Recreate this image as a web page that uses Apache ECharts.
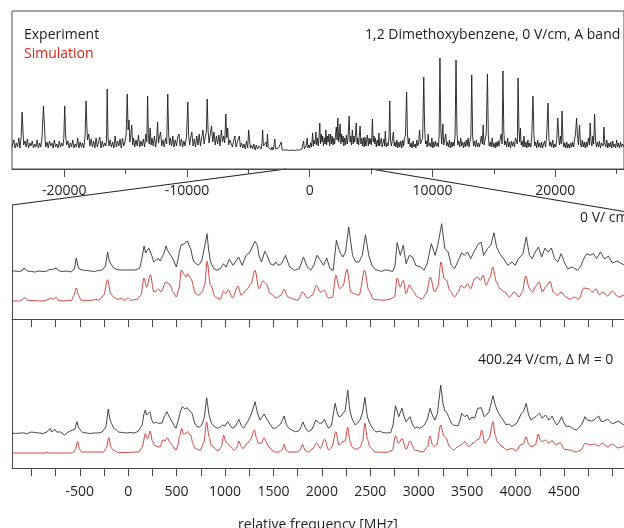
<!DOCTYPE html>
<html>
<head>
<meta charset="utf-8">
<script src="https://cdn.jsdelivr.net/npm/echarts@6/dist/echarts.min.js"></script>
<style>
  html, body { margin: 0; padding: 0; background: #fff; }
  #chart { width: 624px; height: 528px; }
</style>
</head>
<body>
<div id="chart"></div>
<script>
// full A band, experiment: [frequency MHz, intensity above baseline]
const topExp = [
  [-24250,3],[-24200,3],[-24100,10],[-24000,2],[-23900,7],[-23800,3],[-23700,12],[-23600,2],[-23500,14],[-23425,38],[-23350,18],[-23300,5],
  [-23200,9],[-23100,3],[-23000,11],[-22900,2],[-22800,7],[-22700,4],[-22600,9],[-22500,2],[-22400,6],[-22300,3],[-22200,10],[-22100,2],
  [-22000,7],[-21900,3],[-21800,14],[-21690,44],[-21620,28],[-21550,10],[-21500,3],[-21400,8],[-21300,2],[-21200,9],[-21100,4],[-21000,7],
  [-20900,2],[-20800,10],[-20700,3],[-20600,6],[-20500,2],[-20400,9],[-20300,3],[-20200,7],[-20100,4],[-20030,12],[-19954,44],[-19890,16],
  [-19800,5],[-19700,9],[-19600,2],[-19500,7],[-19400,3],[-19300,10],[-19200,2],[-19100,6],[-19000,3],[-18900,12],[-18800,2],[-18700,8],
  [-18600,3],[-18500,7],[-18400,2],[-18300,14],[-18217,49],[-18150,24],[-18100,10],[-18000,16],[-17900,4],[-17800,11],[-17700,3],[-17600,9],
  [-17500,2],[-17400,12],[-17300,3],[-17200,8],[-17100,13],[-17000,2],[-16900,9],[-16800,3],[-16700,7],[-16600,4],[-16550,12],[-16496,61],
  [-16430,12],[-16350,4],[-16250,10],[-16150,3],[-16050,8],[-15950,2],[-15850,14],[-15750,3],[-15650,9],[-15550,4],[-15450,11],[-15350,2],
  [-15250,12],[-15150,4],[-15050,8],[-14950,16],[-14863,56],[-14790,20],[-14720,30],[-14650,8],[-14580,14],[-14500,25],[-14420,5],[-14350,12],
  [-14250,3],[-14150,10],[-14050,4],[-13950,15],[-13850,3],[-13750,9],[-13650,4],[-13550,11],[-13450,3],[-13350,16],[-13270,8],[-13205,54],
  [-13140,14],[-13070,6],[-13000,22],[-12920,5],[-12850,12],[-12750,4],[-12650,14],[-12550,3],[-12470,10],[-12392,28],[-12320,7],[-12250,12],
  [-12150,18],[-12050,4],[-11950,10],[-11850,3],[-11750,12],[-11650,6],[-11563,56],[-11490,16],[-11420,5],[-11350,12],[-11250,4],[-11150,14],
  [-11050,3],[-10950,10],[-10850,4],[-10750,13],[-10650,16],[-10550,4],[-10450,11],[-10350,3],[-10250,9],[-10150,4],[-10030,14],[-9929,48],
  [-9860,14],[-9780,5],[-9700,12],[-9600,18],[-9500,4],[-9400,11],[-9300,3],[-9200,14],[-9100,5],[-9000,16],[-8900,4],[-8800,12],
  [-8700,20],[-8600,6],[-8500,14],[-8420,18],[-8351,51],[-8280,20],[-8200,7],[-8100,16],[-8000,24],[-7900,8],[-7800,18],[-7700,5],
  [-7600,14],[-7500,6],[-7400,15],[-7300,4],[-7200,20],[-7100,8],[-7000,14],[-6920,7],[-6835,36],[-6760,12],[-6680,22],[-6600,5],
  [-6500,10],[-6400,12],[-6300,3],[-6200,9],[-6100,14],[-6000,3],[-5900,8],[-5800,10],[-5730,14],[-5650,3],[-5550,7],[-5450,2],
  [-5350,6],[-5250,1],[-5150,9],[-5050,2],[-4973,20],[-4900,10],[-4820,2],[-4750,5],[-4650,1],[-4550,6],[-4450,0],[-4350,5],
  [-4250,1],[-4150,4],[-4050,6],[-3950,1],[-3880,8],[-3836,20],[-3770,4],[-3700,2],[-3620,6],[-3550,8],[-3500,3],[-3441,16],
  [-3380,3],[-3300,1],[-3220,4],[-3150,0],[-3080,3],[-3000,0],[-2930,3],[-2841,11],[-2780,1],[-2700,2],[-2620,0],[-2550,2],
  [-2480,0],[-2400,1],[-2313,8],[-2250,0],[-2150,-1],[-2050,0],[-1950,-1.5],[-1850,0],[-1750,-1],[-1650,-0.5],[-1550,-1.5],[-1450,0],
  [-1350,-1],[-1250,-0.5],[-1150,-1.5],[-1050,0],[-950,-1],[-850,0],[-750,-1],[-650,1],[-550,0],[-497,9],[-440,1],[-380,2],
  [-300,4],[-250,2],[-205,12],[-150,2],[-80,5],[0,2],[60,7],[130,3],[180,8],[237,17],[290,4],[350,10],
  [420,6],[505,18],[560,5],[630,12],[700,4],[760,14],[821,27],[880,6],[940,16],[1000,8],[1060,14],[1120,4],
  [1200,12],[1260,6],[1318,20],[1380,5],[1440,14],[1500,8],[1560,16],[1620,4],[1700,16],[1760,6],[1830,14],[1900,5],
  [1960,12],[2030,6],[2100,14],[2163,23],[2230,10],[2289,32],[2360,8],[2420,14],[2478,26],[2540,6],[2600,16],[2660,8],
  [2720,14],[2780,4],[2850,12],[2920,5],[2990,15],[3060,6],[3130,14],[3212,34],[3280,8],[3340,14],[3400,5],[3473,20],
  [3540,6],[3600,14],[3670,8],[3730,16],[3789,27],[3860,6],[3920,12],[3990,5],[4040,14],[4104,24],[4170,6],[4230,12],
  [4300,4],[4370,12],[4440,3],[4500,13],[4570,4],[4640,10],[4700,15],[4770,4],[4840,12],[4900,6],[4960,11],[5030,5],
  [5107,31],[5170,8],[5240,14],[5300,6],[5360,12],[5420,3],[5500,10],[5580,4],[5636,17],[5700,4],[5770,9],[5840,12],
  [5900,3],[5980,8],[6050,11],[6100,4],[6156,19],[6230,3],[6300,7],[6380,4],[6460,12],[6520,49],[6580,10],[6650,4],
  [6720,9],[6819,18],[6880,4],[6950,8],[7020,3],[7100,10],[7180,2],[7260,8],[7340,3],[7420,9],[7500,2],[7580,10],
  [7650,4],[7720,11],[7800,15],[7893,58],[7960,16],[8030,6],[8100,12],[8180,3],[8260,7],[8340,2],[8420,9],[8500,3],
  [8580,6],[8650,2],[8720,10],[8800,4],[8880,8],[8950,20],[9020,6],[9100,4],[9200,12],[9290,73],[9360,24],[9430,6],
  [9500,9],[9570,3],[9650,16],[9720,4],[9800,7],[9880,3],[9950,12],[10030,2],[10100,8],[10180,3],[10250,9],[10330,4],
  [10400,7],[10480,3],[10540,14],[10608,92],[10680,20],[10750,6],[10845,26],[10920,5],[11000,10],[11080,16],[11150,4],[11230,8],
  [11300,3],[11380,10],[11450,2],[11530,8],[11600,3],[11680,8],[11760,4],[11840,14],[11918,90],[11990,20],[12060,5],[12140,9],
  [12220,3],[12300,12],[12380,4],[12450,8],[12530,2],[12600,8],[12680,3],[12750,10],[12830,4],[12900,12],[12980,3],[13050,8],
  [13130,14],[13197,75],[13270,15],[13340,4],[13420,9],[13500,3],[13580,10],[13660,3],[13740,7],[13820,3],[13900,8],[13980,14],
  [14060,6],[14128,25],[14200,5],[14280,10],[14380,16],[14476,76],[14550,14],[14620,4],[14700,8],[14780,3],[14860,12],[14940,3],
  [15020,7],[15100,2],[15180,8],[15260,3],[15340,9],[15420,4],[15500,10],[15600,16],[15670,6],[15739,79],[15810,18],[15880,5],
  [15960,9],[16040,3],[16120,12],[16200,3],[16280,8],[16360,2],[16440,9],[16520,4],[16600,8],[16680,3],[16760,12],[16850,14],
  [16910,6],[16970,72],[17040,22],[17100,8],[17160,22],[17230,5],[17300,9],[17380,3],[17450,14],[17530,3],[17610,8],[17690,2],
  [17770,10],[17850,3],[17930,7],[18010,3],[18080,12],[18186,54],[18260,16],[18330,4],[18410,8],[18490,2],[18570,10],[18650,3],
  [18730,7],[18810,2],[18890,8],[18970,2],[19050,6],[19130,9],[19210,3],[19300,14],[19410,47],[19480,12],[19550,4],[19630,8],
  [19710,3],[19800,10],[19880,2],[19960,6],[20040,3],[20120,10],[20206,32],[20290,12],[20350,5],[20420,14],[20490,6],[20553,39],
  [20630,10],[20700,3],[20780,7],[20860,2],[20940,8],[21020,2],[21100,6],[21180,2],[21260,7],[21340,3],[21420,8],[21500,3],
  [21570,10],[21650,16],[21738,32],[21810,14],[21890,5],[21975,25],[22050,6],[22130,3],[22200,10],[22280,3],[22360,8],[22440,2],
  [22520,8],[22600,3],[22700,12],[22780,5],[22843,27],[22920,8],[22990,4],[23060,14],[23130,6],[23206,36],[23280,10],[23360,3],
  [23440,8],[23520,3],[23600,9],[23680,2],[23760,7],[23850,8],[23900,4],[23964,23],[24040,6],[24120,3],[24200,10],[24280,2],
  [24360,7],[24440,3],[24520,8],[24600,2],[24680,9],[24760,3],[24840,6],[24920,2],[25000,10],[25080,3],[25160,7],[25240,2],
  [25320,8],[25400,3],[25480,6],[25600,3]
];

// zoomed window, 0 V/cm
const midExp = [
  [-1200,0],[-1185,1.5],[-1170,0],[-1150,1],[-1130,-0.5],[-1110,1],[-1090,0.5],[-1076,3],[-1060,1],[-1040,0],[-1020,1],[-1000,-0.5],
  [-980,0.5],[-960,-1],[-940,0.5],[-920,0],[-900,1],[-880,-0.5],[-860,0.5],[-836,0],[-815,1.5],[-796,3.5],[-780,1.5],[-760,2],
  [-746,3],[-730,1],[-710,0],[-690,1],[-670,-0.5],[-650,0.5],[-630,0],[-610,1],[-590,-1],[-570,0.5],[-555,2],[-536,13],
  [-520,5],[-505,2],[-486,0],[-470,1],[-450,-1],[-430,0.5],[-410,1.5],[-390,0],[-370,1],[-350,-0.5],[-330,1],[-310,0.5],
  [-290,2],[-270,1],[-250,2.5],[-235,5],[-213,19],[-195,10],[-170,5.7],[-150,3],[-136,2.3],[-115,1.5],[-100,1.3],[-80,1],
  [-60,1.5],[-40,1],[-20,1.5],[0,1],[20,1.5],[40,1],[60,1.3],[80,1],[100,1.5],[120,3],[140,12],[164,25],
  [180,18],[197,17],[212,23],[230,25],[245,15],[264,9],[285,11],[314,12.3],[330,10],[347,9],[370,18],[390,25],
  [405,21],[414,20],[430,17],[447,15],[464,12],[480,8],[497,4],[515,12],[530,20],[547,26],[565,27],[580,27.3],
  [600,27],[614,30],[630,25],[647,22],[665,13],[680,9],[700,7],[724,5.7],[745,8],[764,12],[780,20],[800,30],
  [814,37.3],[832,20],[850,9],[884,2.3],[917,0.7],[950,2.3],[984,7.3],[1010,4],[1044,11.7],[1084,5.7],[1140,14],[1177,5.7],
  [1217,15.7],[1257,19],[1310,29.7],[1334,25.7],[1350,15.7],[1377,9],[1410,19.7],[1434,15.7],[1467,7.3],[1500,5.7],[1524,9],[1550,5.7],
  [1584,7.3],[1624,15.7],[1667,4],[1717,0.7],[1767,2.3],[1810,14],[1850,4],[1884,0.7],[1917,5.7],[1950,15.7],[1984,10.7],[2017,5.7],
  [2050,13],[2084,2.3],[2117,0.7],[2150,30.7],[2184,19],[2217,14],[2244,19],[2277,44],[2317,15.7],[2350,9],[2384,9],[2417,15.7],
  [2450,36.3],[2484,15.7],[2517,5.7],[2550,1.7],[2580,0.5],[2617,-0.3],[2650,1],[2684,0.7],[2710,0],[2734,-0.3],[2755,5],[2777,28.3],
  [2810,15.7],[2840,25.7],[2870,7.3],[2904,15.7],[2937,14],[2970,5.7],[3020,4],[3054,0.7],[3087,7.3],[3130,27.3],[3170,15.7],[3197,25.7],
  [3237,47.3],[3270,22.3],[3304,19],[3337,5.7],[3370,2.3],[3410,10.7],[3444,18.3],[3470,15.7],[3504,19],[3537,12.3],[3570,19],[3610,26.3],
  [3644,29],[3670,15.7],[3710,22.3],[3744,25.7],[3777,38.3],[3804,24],[3837,17.3],[3877,12.3],[3920,5.7],[3964,9],[3997,5.7],[4030,12.3],
  [4077,17.3],[4110,34],[4144,15.7],[4170,12.3],[4204,19],[4237,24],[4270,14],[4304,23],[4337,19],[4370,23],[4404,12.3],[4437,9],
  [4470,17.3],[4504,9],[4537,2.3],[4587,4],[4637,0.7],[4670,4],[4704,12.3],[4737,17.3],[4770,15.7],[4804,17.3],[4837,12.3],[4877,19],
  [4920,12],[4960,15],[5000,8],[5050,10],[5120,6]
];
const midSim = [
  [-1200,0],[-1120,0],[-1103,1],[-1070,3],[-1036,0.7],[-900,0],[-870,0.3],[-820,1.7],[-796,3],[-770,1.7],[-746,4],[-720,0.7],
  [-670,0],[-586,0.7],[-560,5.7],[-536,13],[-513,5.7],[-486,0.7],[-370,0.7],[-336,1.7],[-303,0.7],[-253,5.7],[-213,21.3],[-180,7.3],
  [-153,4],[-110,1.7],[-70,2.5],[-36,0.7],[-3,3],[30,0.7],[97,2],[130,5.7],[164,23],[190,13.7],[230,26.3],[264,9],
  [314,11.7],[337,9],[390,19],[430,16.3],[464,9],[497,4],[524,12.3],[547,30.7],[580,26.3],[597,24],[614,27.3],[647,22.3],
  [697,7.3],[730,5.7],[764,9.3],[790,16],[814,39.7],[850,15.7],[900,4],[950,1.7],[984,9.7],[1010,7.3],[1034,11.3],[1077,3],
  [1134,15],[1167,5.7],[1200,9],[1234,12.3],[1267,17.3],[1310,30.7],[1350,12.3],[1394,20],[1424,17.3],[1467,7.3],[1534,3],[1577,5.7],
  [1610,11.7],[1650,4],[1717,1.7],[1750,0.7],[1800,9],[1850,3],[1900,5.7],[1944,15.7],[1984,9],[2027,10.7],[2067,3],[2110,4],
  [2144,25.7],[2184,12.3],[2217,15],[2260,31.7],[2300,9],[2334,7.3],[2384,5.7],[2440,30.7],[2484,10.7],[2534,1.7],[2634,0.7],[2700,1.7],
  [2750,4],[2777,23],[2810,14],[2840,20.7],[2870,7.3],[2904,16.3],[2937,10.7],[2987,4],[3037,1.7],[3077,7.3],[3120,24],[3164,9],
  [3197,14],[3230,39],[3264,22.3],[3287,20.7],[3320,10.7],[3370,4],[3410,9],[3437,15.7],[3470,13],[3504,17.3],[3537,12.3],[3577,22.3],
  [3610,24],[3637,20.7],[3664,25.7],[3697,15.7],[3737,24],[3764,34],[3804,19],[3837,12.3],[3887,9],[3937,4],[3987,9],[4037,4],
  [4070,9],[4104,25],[4144,12.3],[4177,9],[4210,15],[4244,19],[4277,9],[4310,14],[4357,19.7],[4390,9],[4430,5.7],[4470,9],
  [4520,4],[4564,1.7],[4604,4],[4654,1.7],[4704,13],[4754,12.3],[4797,9],[4830,12.3],[4864,6.3],[4904,9],[4950,5],[5000,10],
  [5060,4],[5120,6]
];

// zoomed window, 400.24 V/cm, delta M = 0
const lowExp = [
  [-1200,0],[-1180,1],[-1160,-0.5],[-1140,1],[-1120,0],[-1100,1.5],[-1080,0],[-1060,1],[-1040,-0.5],[-1020,0.5],[-1000,1],[-980,-0.5],
  [-960,0.5],[-940,1],[-920,0],[-900,1],[-880,-0.5],[-860,0.5],[-840,1],[-820,2],[-806,4.7],[-790,1],[-770,2],[-756,3.7],
  [-740,1],[-720,0],[-700,1],[-680,-1],[-656,-2],[-640,0],[-620,1],[-600,0.5],[-573,3],[-550,4],[-530,11.3],[-510,5],
  [-490,3],[-470,0.5],[-450,1],[-430,0],[-410,1],[-390,-0.5],[-370,1],[-350,0],[-330,1],[-310,0],[-290,1.5],[-270,1],
  [-250,2],[-230,6],[-206,24],[-190,14],[-173,9.7],[-150,5],[-123,3],[-100,1],[-80,1.5],[-60,0.5],[-40,1],[-20,0],
  [0,1],[20,0.5],[40,1],[60,0],[80,1],[100,1.5],[120,2],[145,8],[160,18],[177,23],[190,18],[204,16.3],
  [224,21.3],[240,14],[260,9.7],[285,11],[310,9.7],[330,11],[350,10],[370,16],[400,21.3],[420,17],[444,13],[470,8],
  [494,4.7],[520,14],[540,22],[560,26.3],[585,24],[610,25.3],[635,22],[660,19.7],[685,10],[710,6.3],[735,6],[760,8],
  [785,15],[810,35.3],[835,18],[860,9.7],[895,6],[927,4.7],[950,6],[977,8],[1000,7],[1027,11.3],[1050,8],[1077,4.7],
  [1110,7],[1143,13.7],[1170,7],[1193,4.7],[1220,9],[1243,13],[1275,20],[1310,31.3],[1335,20],[1360,13],[1380,15],[1403,19],
  [1425,15],[1443,13],[1470,8],[1493,4.7],[1520,5],[1543,6.3],[1575,9],[1610,17],[1635,8],[1660,4.7],[1690,3],[1727,1.3],
  [1760,2],[1780,5],[1805,11],[1830,5],[1860,1.3],[1900,4],[1937,13],[1957,11],[1977,9.7],[2000,10],[2027,13.7],[2050,8],
  [2070,4.7],[2100,8],[2137,29.7],[2160,20],[2177,16.3],[2200,17],[2217,19.7],[2240,22],[2267,43],[2290,22],[2310,14.7],[2344,8],
  [2370,10],[2394,13],[2420,20],[2444,35.7],[2470,16],[2494,9.7],[2520,5],[2544,2.3],[2570,1],[2600,2],[2625,0.5],[2644,1.3],
  [2670,0],[2690,1],[2710,0.3],[2735,8],[2760,27.3],[2794,16.3],[2827,24.7],[2850,16],[2870,11.3],[2910,16.3],[2935,9],[2960,4.7],
  [2985,6],[3010,4.7],[3035,6],[3060,8],[3090,14],[3117,24.7],[3140,18],[3167,13],[3194,19.7],[3227,48],[3250,30],[3267,23],
  [3290,20],[3310,16.3],[3335,10],[3360,8],[3380,9],[3404,7],[3425,12],[3444,19.7],[3477,16.3],[3500,18],[3527,13],[3550,16],
  [3577,14.7],[3610,24.7],[3644,25.3],[3677,16.3],[3700,18],[3727,21.3],[3767,37.3],[3790,28],[3810,23],[3835,18],[3860,14.7],[3904,8],
  [3930,9],[3960,6.3],[3985,8],[4010,9.7],[4035,14],[4060,19.7],[4085,22],[4110,29.7],[4135,18],[4160,13],[4185,15],[4210,16.3],
  [4244,19.7],[4277,14.7],[4310,18],[4344,13],[4377,17],[4400,12],[4427,8],[4450,11],[4477,16.3],[4500,10],[4527,6.3],[4550,7],
  [4577,5.7],[4600,4],[4627,3],[4650,5],[4677,8],[4700,12],[4717,16.3],[4740,13],[4760,14.7],[4785,12],[4810,13],[4835,15],
  [4860,17],[4880,12],[4904,11.3],[4950,14],[5000,9],[5060,12],[5120,8]
];
const lowSim = [
  [-1200,0],[-860,0],[-840,0.7],[-820,0],[-580,0],[-563,1],[-543,4],[-523,11.7],[-503,4],[-483,1],[-256,1],[-225,5],
  [-200,15.3],[-178,6],[-156,2.7],[-90,0.3],[110,1],[145,6],[177,19.3],[192,15],[204,14.3],[227,22],[250,12],[270,7.7],
  [300,6.5],[327,6],[360,13.3],[380,12],[404,15.3],[430,11],[450,8],[494,3],[515,8],[527,16],[553,24.7],[570,19],
  [584,19],[610,21.3],[644,18],[670,9],[694,4.3],[744,2.7],[780,10],[810,31],[835,16],[860,7.7],[927,2],[960,6],
  [987,17.7],[1005,12],[1027,9.3],[1060,6],[1093,2.7],[1120,5],[1143,12],[1165,7],[1183,4.3],[1227,9.3],[1260,13],[1303,23],
  [1325,15],[1343,9.7],[1375,10],[1403,15.3],[1430,10],[1450,6],[1510,1],[1560,1],[1590,3],[1610,8.7],[1630,3],[1660,1],
  [1743,1],[1775,3],[1800,8.7],[1825,3],[1860,1],[1910,4.7],[1944,10.3],[1984,4.7],[2027,13.7],[2070,3],[2104,6.3],[2144,21.3],
  [2177,8],[2217,11.3],[2240,12],[2267,25.7],[2290,12],[2310,6.3],[2344,3.7],[2394,5.3],[2420,12],[2444,29.7],[2470,14],[2494,6.3],
  [2550,1],[2677,0.7],[2727,2.7],[2760,17],[2794,9.7],[2827,14.7],[2870,3.7],[2910,12],[2960,3],[3044,1],[3090,6],[3117,17],
  [3140,9],[3160,6.3],[3184,8],[3227,28],[3260,17],[3284,14.7],[3317,6.3],[3360,3],[3404,6.3],[3437,8],[3477,11.3],[3517,6.3],
  [3560,9.7],[3600,13],[3625,14],[3650,23],[3684,9.7],[3727,14.7],[3767,31.3],[3790,18],[3810,11.3],[3860,6.3],[3910,3],[3960,4.7],
  [4010,2],[4050,8],[4080,9],[4110,16.3],[4135,9],[4160,6.3],[4204,8],[4234,19],[4255,13],[4270,11.3],[4310,13],[4344,9.7],
  [4377,12.3],[4417,8],[4460,10.3],[4504,3.7],[4560,3],[4627,1],[4677,3],[4717,9.7],[4770,8],[4817,9],[4860,7],[4894,9.7],
  [4950,6],[5000,9],[5060,5],[5120,7]
];

const topMajor = [-20000, -10000, 0, 10000, 20000];
const topMinor = [-15000, -5000, 5000, 15000, 25000];
const zoomTicks = [-1000, -750, -500, -250, 0, 250, 500, 750, 1000, 1250, 1500, 1750, 2000, 2250, 2500,
  2750, 3000, 3250, 3500, 3750, 4000, 4250, 4500, 4750, 5000];
const zoomLabels = [-500, 0, 500, 1000, 1500, 2000, 2500, 3000, 3500, 4000, 4500];
// part of the full band that is blown up below
const zoomFrom = -1920, zoomTo = 5000;

const FONT = "'Open Sans', sans-serif";
const INK = '#1e1e1e';
const RED = '#c8302c';
const AXIS = '#4a4a4a';

// traces are stacked inside a panel by shifting the baseline
const shift = (arr, off) => arr.map(p => [p[0], p[1] + off]);
const plain = v => String(v);

const chart = echarts.init(document.getElementById('chart'));

function trace(data, xi, yi, color, smooth) {
  return {
    type: 'line',
    xAxisIndex: xi,
    yAxisIndex: yi,
    data: data,
    showSymbol: false,
    smooth: smooth ? 0.3 : false,
    smoothMonotone: 'x',
    lineStyle: { color: color, width: 0.9 },
    silent: true,
    animation: false
  };
}

function text(str, x, y, color, align) {
  return {
    type: 'text',
    x: x,
    y: y,
    silent: true,
    style: {
      text: str,
      fill: color || INK,
      font: "14px 'Open Sans', sans-serif",
      textAlign: align || 'left',
      textVerticalAlign: 'middle'
    }
  };
}

const frameLine = { show: true, onZero: false, lineStyle: { color: AXIS, width: 1 } };

const option = {
  animation: false,
  backgroundColor: '#fff',
  grid: [
    { left: 12, right: -20, top: 11, bottom: 359, show: true, borderColor: AXIS, borderWidth: 1 },
    { left: 12, right: -20, top: 205, bottom: 209 },
    { left: 12, right: -20, top: 319, bottom: 60 }
  ],
  xAxis: [
    {
      gridIndex: 0, type: 'value', min: -24250, max: 25600, position: 'bottom',
      splitLine: { show: false },
      axisLine: frameLine,
      axisTick: { show: true, customValues: topMajor, length: 8, lineStyle: { color: AXIS } },
      axisLabel: { customValues: topMajor, formatter: plain, margin: 15, color: INK, fontSize: 14, fontFamily: FONT }
    },
    {
      gridIndex: 0, type: 'value', min: -24250, max: 25600, position: 'bottom',
      splitLine: { show: false },
      axisLine: { show: false, onZero: false },
      axisTick: { show: true, customValues: topMinor, length: 5, lineStyle: { color: AXIS } },
      axisLabel: { show: false }
    },
    {
      gridIndex: 1, type: 'value', min: -1200, max: 5120,
      show: false
    },
    {
      gridIndex: 2, type: 'value', min: -1200, max: 5120, position: 'bottom',
      splitLine: { show: false },
      axisLine: frameLine,
      axisTick: { show: true, customValues: zoomTicks, length: 8, lineStyle: { color: AXIS } },
      axisLabel: { customValues: zoomLabels, formatter: plain, margin: 17, color: INK, fontSize: 14, fontFamily: FONT }
    },
    {
      gridIndex: 2, type: 'value', min: -1200, max: 5120, position: 'top',
      splitLine: { show: false },
      axisLine: frameLine,
      axisTick: { show: true, inside: true, customValues: zoomTicks, length: 8, lineStyle: { color: AXIS } },
      axisLabel: { show: false }
    }
  ],
  yAxis: [
    { gridIndex: 0, type: 'value', min: -19, max: 139, show: false },
    {
      gridIndex: 1, type: 'value', min: 0, max: 114,
      splitLine: { show: false }, axisTick: { show: false }, axisLabel: { show: false },
      axisLine: frameLine
    },
    {
      gridIndex: 2, type: 'value', min: 0, max: 149,
      splitLine: { show: false }, axisTick: { show: false }, axisLabel: { show: false },
      axisLine: frameLine
    }
  ],
  series: [
    trace(topExp, 0, 0, INK, false),
    trace(shift(midExp, 48), 2, 1, '#333', false),
    trace(shift(midSim, 18), 2, 1, RED, true),
    trace(shift(lowExp, 35), 3, 2, '#333', false),
    trace(shift(lowSim, 15), 3, 2, RED, true)
  ]
};
chart.setOption(option);

// labels and the two lines that connect the full band to the zoomed window
const px = (axis, v) => chart.convertToPixel({ xAxisIndex: axis }, v);
const py = (axis, v) => chart.convertToPixel({ yAxisIndex: axis }, v);
const yBand = py(0, -19);
const connector = (x1, y1, x2, y2) => ({
  type: 'line', silent: true,
  shape: { x1: x1, y1: y1, x2: x2, y2: y2 },
  style: { stroke: '#222', lineWidth: 1.2 }
});

chart.setOption({
  graphic: [
    connector(px(0, zoomFrom), yBand, px(2, -1200), py(1, 114)),
    connector(px(0, zoomTo), yBand, px(2, 5120), py(1, 107.5)),
    text('Experiment', 24, 35),
    text('Simulation', 24, 54.5, '#e2231a'),
    text('1,2 Dimethoxybenzene, 0 V/cm, A band', 365, 35.3),
    text('0 V/ cm', 580, 218.3),
    text('400.24 V/cm, \u0394 M = 0', 478, 360),
    text('relative frequency [MHz]', 318, 525, INK, 'center')
  ]
});
</script>
</body>
</html>
